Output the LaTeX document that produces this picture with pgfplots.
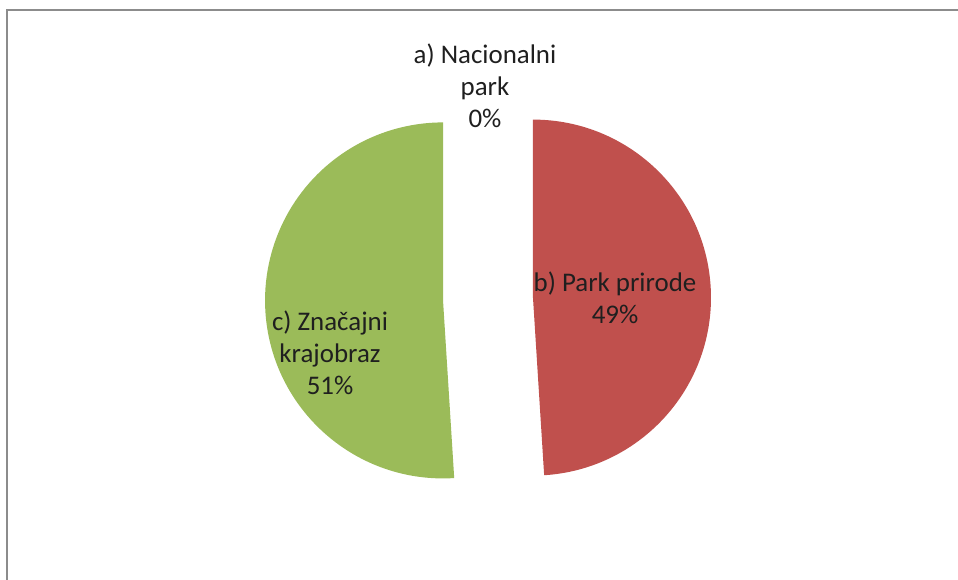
\documentclass[border=0pt]{standalone}
\usepackage{pgfplots}
\usepackage{pgfplotstable}
\pgfplotsset{compat=1.18}
\usepackage{fontspec}
\setmainfont{Carlito}
\definecolor{pieRed}{HTML}{C0504D}
\definecolor{pieGreen}{HTML}{9BBB59}
\definecolor{frameGray}{HTML}{8C8C8C}
\pgfplotstableread{
id value
a 0
b 49
c 51
}\piedata
\begin{document}
\begin{tikzpicture}
\useasboundingbox (0,0) rectangle (958bp,580bp);
\begin{axis}[
  at={(0,0)}, anchor=south west,
  width=958bp, height=580bp, scale only axis,
  xmin=0, xmax=958, ymin=0, ymax=580,
  hide axis, clip=false,
]
% frame
\draw[frameGray, line width=2.2bp] (axis cs:7,-100) -- (axis cs:7,570) -- (axis cs:1000,570);
% values
\pgfplotstablegetelem{0}{value}\of\piedata \let\va\pgfplotsretval
\pgfplotstablegetelem{1}{value}\of\piedata \let\vb\pgfplotsretval
\pgfplotstablegetelem{2}{value}\of\piedata \let\vc\pgfplotsretval
\pgfmathsetmacro\sa{90-3.6*\va}
\pgfmathsetmacro\sb{\sa-3.6*\vb}
\pgfmathsetmacro\sc{\sb-3.6*\vc}
\pgfmathsetmacro\mb{(\sa+\sb)/2}
\pgfmathsetmacro\mc{(\sb+\sc)/2}
\pgfmathsetmacro\bx{488+45*cos(\mb)}
\pgfmathsetmacro\by{281+45*sin(\mb)}
\pgfmathsetmacro\cx{488+45*cos(\mc)}
\pgfmathsetmacro\cy{281+45*sin(\mc)}
\fill[pieRed] (axis cs:\bx,\by) -- ++(\sa:178bp) arc[start angle=\sa, end angle=\sb, radius=178bp] -- cycle;
\fill[pieGreen] (axis cs:\cx,\cy) -- ++(\sb:178bp) arc[start angle=\sb, end angle=\sc, radius=178bp] -- cycle;
% labels
\node[align=center, font=\fontsize{27}{32}\selectfont, text=black!88] at (axis cs:485,494) {a) Nacionalni\\park\\0\%};
\node[align=center, font=\fontsize{27}{32}\selectfont, text=black!88] at (axis cs:615,282) {b) Park prirode\\49\%};
\node[align=center, font=\fontsize{27}{32}\selectfont, text=black!88] at (axis cs:330,227) {c) Značajni\\krajobraz\\51\%};
\end{axis}
\end{tikzpicture}
\end{document}
